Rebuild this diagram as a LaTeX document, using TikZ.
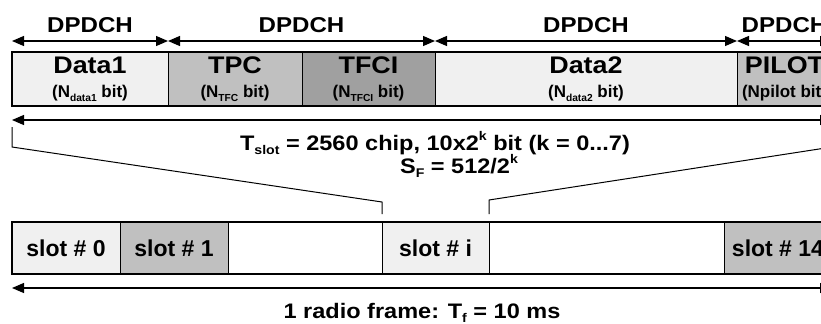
\documentclass[tikz,border=0pt]{standalone}
\usepackage{fontspec}
\usepackage{graphicx}
\setmainfont{Liberation Sans}
\newfontfamily\widesf{Liberation Sans}[FakeStretch=1.12]
\usetikzlibrary{arrows.meta,calc}
\definecolor{fieldlight}{HTML}{F0F0F0}
\definecolor{fieldmid}{HTML}{C0C0C0}
\definecolor{fielddark}{HTML}{A0A0A0}
\newcommand\lo[1]{\raisebox{-0.4ex}{\scalebox{0.6}{#1}}}
\newcommand\hi[1]{\raisebox{0.85ex}{\scalebox{0.6}{#1}}}
\newcommand\fieldtext[2]{{\widesf #1}\\{\fontsize{8.5}{10}\selectfont #2}}

\begin{document}
\begin{tikzpicture}[x=0.5pt, y=-0.5pt,
  field/.style={draw, line width=0.5pt, inner sep=0pt, outer sep=0pt, anchor=north west,
    minimum height=27pt, align=center, font=\bfseries\fontsize{12}{12}\selectfont},
  slotbox/.style={draw, line width=0.5pt, inner sep=0pt, outer sep=0pt, anchor=north west,
    minimum height=26pt, font=\bfseries\fontsize{11.5}{12}\selectfont},
  frameline/.style={line width=1.1pt},
  span/.style={line width=0.6pt, {Triangle[length=6pt,width=5pt]}-{Triangle[length=6pt,width=5pt]}},
  zoomline/.style={line width=0.5pt},
  lab/.style={anchor=base, inner sep=0pt, font=\widesf\bfseries\fontsize{10.75}{12}\selectfont},
  note/.style={anchor=base, inner sep=0pt, font=\widesf\bfseries\fontsize{10.5}{12}\selectfont}]
\useasboundingbox (0,0) rectangle (821,323);
\clip (0,0) rectangle (821,323);

\node[field, fill=fieldlight, minimum width=78pt] (data1) at (12,52) {\fieldtext{Data1}{(N\lo{data1} bit)}};
\node[field, fill=fieldmid, minimum width=67pt] (tpc) at (data1.north east) {\fieldtext{TPC}{(N\lo{TFC} bit)}};
\node[field, fill=fielddark, minimum width=66.5pt] (tfci) at (tpc.north east) {\fieldtext{TFCI}{(N\lo{TFCI} bit)}};
\node[field, fill=fieldlight, minimum width=151pt] (data2) at (tfci.north east) {\fieldtext{Data2}{(N\lo{data2} bit)}};
\node[field, fill=fieldmid, minimum width=47.5pt] (pilot) at (data2.north east) {\fieldtext{PILOT}{(Npilot bit)}};
\draw[frameline] (data1.north west) rectangle (pilot.south east);

\foreach \a/\b/\n in {data1/data1/1, tpc/tfci/2, data2/data2/3, pilot/pilot/4} {
  \draw[span] ([yshift=5.5pt]\a.north west) -- ([yshift=5.5pt]\b.north east);
  \node[lab] (dpdch\n) at ($(\a.north west)!0.5!(\b.north east)+(0,-20)$) {DPDCH};
}

\draw[span] ([yshift=-7pt]data1.south west) -- ([yshift=-7pt]pilot.south east);
\node[note] (tslot) at (435,150) {T\lo{slot} = 2560 chip, 10x2\hi{k} bit (k = 0...7)};
\node[note] (sf) at (459,173) {S\lo{F} = 512/2\hi{k}};

\node[slotbox, fill=fieldlight, minimum width=54pt] (slot0) at (12,222) {slot \# 0};
\node[slotbox, fill=fieldmid, minimum width=54pt] (slot1) at (slot0.north east) {slot \# 1};
\node[slotbox, fill=white, minimum width=77pt] (gap1) at (slot1.north east) {};
\node[slotbox, fill=fieldlight, minimum width=53.5pt] (sloti) at (gap1.north east) {slot \# i};
\node[slotbox, fill=white, minimum width=117.5pt] (gap2) at (sloti.north east) {};
\node[slotbox, fill=fieldmid, minimum width=54pt] (slot14) at (gap2.north east) {slot \# 14};
\draw[frameline] (slot0.north west) rectangle (slot14.south east);

\coordinate (zl1) at ([yshift=-10.5pt]data1.south west);
\coordinate (zl2) at ([yshift=-20.5pt]data1.south west);
\coordinate (zl3) at ([yshift=10pt]sloti.north west);
\coordinate (zl4) at ([yshift=4pt]sloti.north west);
\coordinate (zr1) at ([yshift=-10.5pt]pilot.south east);
\coordinate (zr2) at ([yshift=-20.5pt]pilot.south east);
\coordinate (zr3) at ([yshift=11pt]gap2.north west);
\coordinate (zr4) at ([yshift=4pt]gap2.north west);
\draw[zoomline] (zl1) -- (zl2) -- (zl3) -- (zl4);
\draw[zoomline] (zr1) -- (zr2) -- (zr3) -- (zr4);

\draw[span] ([yshift=-7pt]slot0.south west) -- ([yshift=-7pt]slot14.south east);
\node[note] (radioframe) at (422,318) {1 radio frame: T\lo{f} = 10 ms};
\end{tikzpicture}
\end{document}
